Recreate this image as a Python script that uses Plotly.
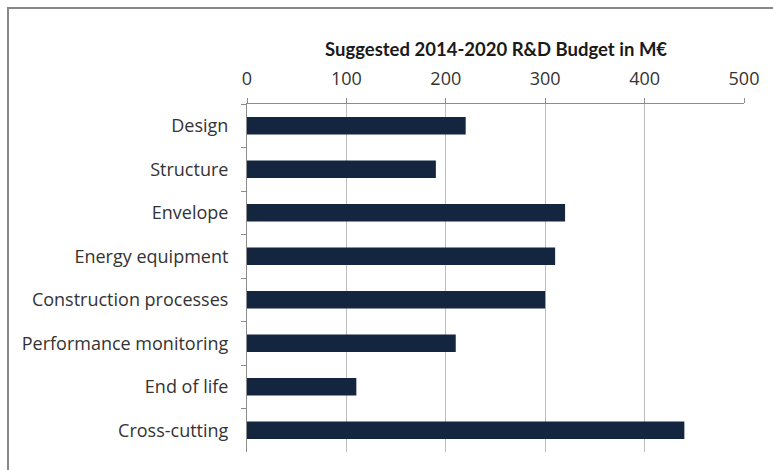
import plotly.graph_objects as go

categories = ["Design", "Structure", "Envelope", "Energy equipment",
              "Construction processes", "Performance monitoring",
              "End of life", "Cross-cutting"]
budget = [220, 190, 320, 310, 300, 210, 110, 440]
x_ticks = [0, 100, 200, 300, 400, 500]
title_text = "Suggested 2014-2020 R&D Budget in M€"

W, H = 773, 470
L, R, T, B = 247, 29, 104, 18
pw, ph = W - L - R, H - T - B

fig = go.Figure(go.Bar(
    x=budget, y=categories, orientation="h",
    marker=dict(color="#14253f", line=dict(width=0)),
    width=0.4,
))

label_font = "'Open Sans', Lato, sans-serif"
title_font = "Lato, 'Open Sans', sans-serif"

fig.update_layout(
    width=W, height=H,
    margin=dict(l=L, r=R, t=T, b=B, pad=0),
    paper_bgcolor="white", plot_bgcolor="white",
    showlegend=False,
    font=dict(family=label_font, size=18, color="#333333"),
    xaxis=dict(
        side="top", range=[0, 500], tickvals=x_ticks,
        ticktext=[str(v) for v in x_ticks],
        showgrid=True, gridcolor="#bdbdbd", gridwidth=1,
        showline=True, linecolor="#8c8c8c", linewidth=1,
        ticks="outside", ticklen=5, tickcolor="#8c8c8c",
        ticklabelstandoff=6,
        zeroline=False, fixedrange=True,
        tickfont=dict(size=18),
    ),
    yaxis=dict(
        categoryorder="array", categoryarray=categories,
        autorange="reversed",
        showline=True, linecolor="#8c8c8c", linewidth=1,
        ticks="outside", ticklen=5, tickcolor="#8c8c8c",
        tickson="boundaries", ticklabelstandoff=14,
        showgrid=False, zeroline=False,
        tickfont=dict(size=18),
    ),
    annotations=[dict(
        text="<b>" + title_text + "</b>", xref="paper", yref="paper",
        x=0.5, y=1 + (T - 49) / ph, xanchor="center", yanchor="middle",
        showarrow=False, font=dict(family=title_font, size=18.5, color="#1a1a1a"),
    )],
    shapes=[dict(
        type="rect", xref="paper", yref="paper",
        x0=(8 - L) / pw, x1=1.2, y0=-0.2, y1=1 + (T - 8) / ph,
        line=dict(color="#878787", width=2), fillcolor="rgba(0,0,0,0)",
        layer="below",
    )],
)

fig.write_html("out.html")
